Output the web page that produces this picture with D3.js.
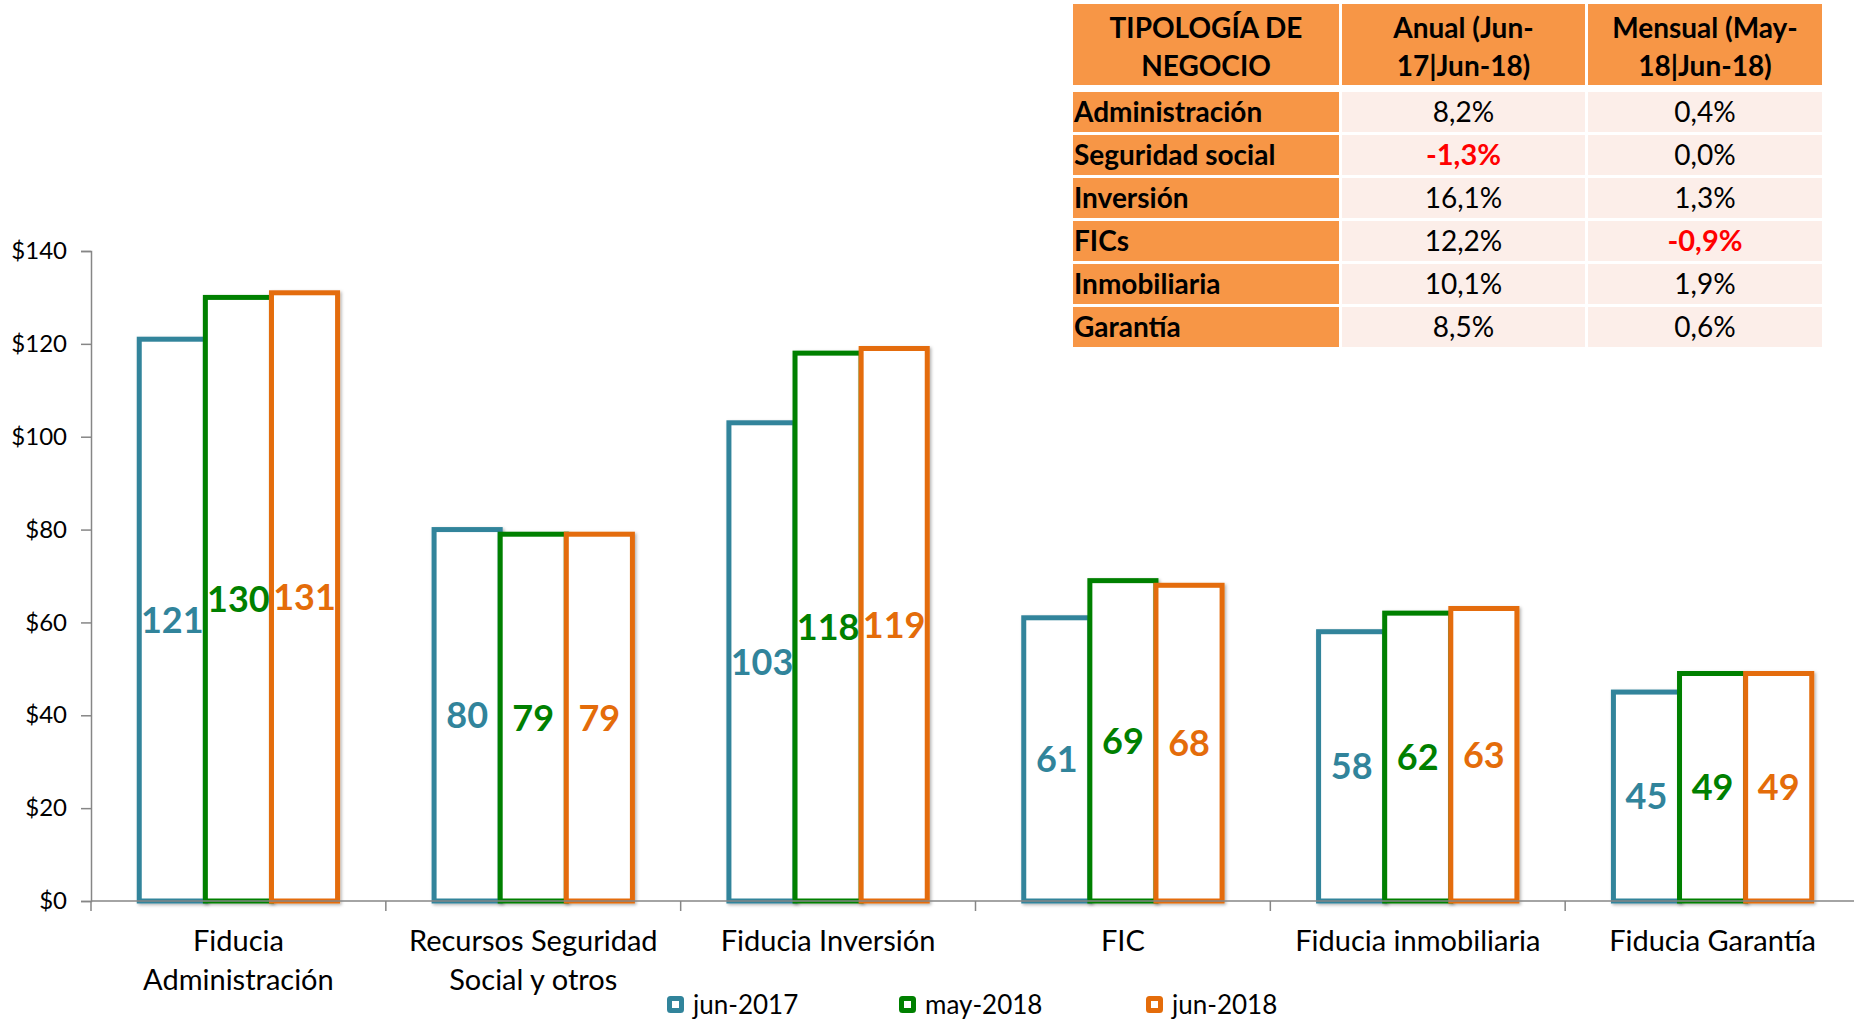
<!DOCTYPE html>
<html>
<head>
<meta charset="utf-8">
<script src="https://cdn.jsdelivr.net/npm/d3@7/dist/d3.min.js"></script>
<style>
  body { margin: 0; background: #fff; }
  svg { display: block; font-family: Lato, "Open Sans", sans-serif; }
</style>
</head>
<body>
<svg id="chart" width="1854" height="1019"></svg>
<script>
// ---------- data ----------
const categories = ["Fiducia\nAdministración", "Recursos Seguridad\nSocial y otros", "Fiducia Inversión", "FIC", "Fiducia inmobiliaria", "Fiducia Garantía"];
const seriesNames = ["jun-2017", "may-2018", "jun-2018"];
const jun2017 = [121, 80, 103, 61, 58, 45];
const may2018 = [130, 79, 118, 69, 62, 49];
const jun2018 = [131, 79, 119, 68, 63, 49];
const seriesColors = ["#31849B", "#008000", "#E46C0A"];
const yTicks = [0, 20, 40, 60, 80, 100, 120, 140];

const tableHeader = ["TIPOLOGÍA DE\nNEGOCIO", "Anual (Jun-\n17|Jun-18)", "Mensual (May-\n18|Jun-18)"];
const tableTypes = ["Administración", "Seguridad social", "Inversión", "FICs", "Inmobiliaria", "Garantía"];
const tableAnual = ["8,2%", "-1,3%", "16,1%", "12,2%", "10,1%", "8,5%"];
const tableMensual = ["0,4%", "0,0%", "1,3%", "-0,9%", "1,9%", "0,6%"];

// ---------- chart ----------
const svg = d3.select("#chart");
const defs = svg.append("defs");
const f = defs.append("filter").attr("id", "shadow").attr("x", "-20%").attr("y", "-20%").attr("width", "140%").attr("height", "140%");
f.append("feDropShadow").attr("dx", 1.5).attr("dy", 1.5).attr("stdDeviation", 1.5).attr("flood-color", "#000").attr("flood-opacity", 0.3);

const x0 = d3.scaleBand().domain(categories).range([91, 1860]).padding(0);
const x1 = d3.scaleBand().domain(seriesNames).range([0, x0.bandwidth()]).paddingOuter(0.73).paddingInner(0);
const y = d3.scaleLinear().domain([0, 140]).range([901, 251]);

const series = [jun2017, may2018, jun2018];

// bars
series.forEach((vals, si) => {
  svg.append("g").selectAll("rect").data(vals).join("rect")
    .attr("x", (v, i) => x0(categories[i]) + x1(seriesNames[si]))
    .attr("y", v => y(v))
    .attr("width", x1.bandwidth())
    .attr("height", v => y(0) - y(v))
    .attr("fill", "#fff")
    .attr("stroke", seriesColors[si])
    .attr("stroke-width", 5)
    .attr("filter", "url(#shadow)");
});

// y axis
const yAxis = svg.append("g").attr("transform", "translate(91,0)")
  .call(d3.axisLeft(y).tickValues(yTicks).tickSize(10).tickPadding(14).tickFormat(d => "$" + d));
yAxis.select(".domain").attr("stroke", "#868686").attr("stroke-width", 1.5);
yAxis.selectAll(".tick line").attr("stroke", "#868686").attr("stroke-width", 1.5);
yAxis.selectAll(".tick text").attr("font-size", 24).attr("fill", "#000").attr("font-family", "Lato");

// x axis
const xAxis = svg.append("g").attr("transform", "translate(0,901)");
xAxis.append("line").attr("x1", 91).attr("x2", 1860).attr("stroke", "#868686").attr("stroke-width", 1.5);
const boundaries = categories.map(c => x0(c)).concat([x0.range()[1]]);
xAxis.selectAll("line.tk").data(boundaries).join("line").attr("class", "tk")
  .attr("x1", d => d).attr("x2", d => d).attr("y1", 0).attr("y2", 10)
  .attr("stroke", "#868686").attr("stroke-width", 1.5);
const catLabels = xAxis.selectAll("text.cat").data(categories).join("text").attr("class", "cat")
  .attr("x", d => x0(d) + x0.bandwidth() / 2)
  .attr("text-anchor", "middle").attr("font-size", 29).attr("fill", "#000");
catLabels.each(function(d) {
  const lines = d.split("\n");
  d3.select(this).selectAll("tspan").data(lines).join("tspan")
    .attr("x", x0(d) + x0.bandwidth() / 2)
    .attr("y", (l, i) => 50 + i * 39)
    .text(l => l);
});

// labels
series.forEach((vals, si) => {
  svg.append("g").selectAll("text").data(vals).join("text")
    .attr("x", (v, i) => x0(categories[i]) + x1(seriesNames[si]) + x1.bandwidth() / 2)
    .attr("y", v => (y(v) + y(0)) / 2)
    .attr("dy", "0.36em")
    .attr("text-anchor", "middle")
    .attr("font-size", 36).attr("font-weight", "bold")
    .attr("fill", seriesColors[si])
    .text(v => v);
});

// legend
const legendX = [667, 899, 1146];
const lg = svg.append("g").selectAll("g").data(seriesNames).join("g")
  .attr("transform", (d, i) => `translate(${legendX[i]},1005)`);
lg.append("rect").attr("x", 2.5).attr("y", -6.5).attr("width", 12).attr("height", 12).attr("rx", 1)
  .attr("fill", "#fff").attr("stroke", (d, i) => seriesColors[i]).attr("stroke-width", 5);
lg.append("text").attr("x", 26).attr("dy", "0.36em").attr("font-size", 26).attr("fill", "#000").text(d => d);

// ---------- table ----------
const colX = [1073, 1342, 1588];
const colW = [266, 243, 234];
const headerTop = 4, headerH = 81;
const rowTop = 92, rowH = 40, rowStep = 43;
const tg = svg.append("g").attr("font-size", 28);

// header
tableHeader.forEach((h, ci) => {
  tg.append("rect").attr("x", colX[ci]).attr("y", headerTop).attr("width", colW[ci]).attr("height", headerH).attr("fill", "#F79646");
  const t = tg.append("text").attr("text-anchor", "middle").attr("font-weight", "bold").attr("fill", "#000");
  h.split("\n").forEach((l, li) => {
    t.append("tspan").attr("x", colX[ci] + colW[ci] / 2).attr("y", headerTop + 24 + li * 38).attr("dy", "0.36em").text(l);
  });
});

// rows
tableTypes.forEach((name, ri) => {
  const ty = rowTop + ri * rowStep;
  tg.append("rect").attr("x", colX[0]).attr("y", ty).attr("width", colW[0]).attr("height", rowH).attr("fill", "#F79646");
  tg.append("rect").attr("x", colX[1]).attr("y", ty).attr("width", colW[1]).attr("height", rowH).attr("fill", "#FCEEE9");
  tg.append("rect").attr("x", colX[2]).attr("y", ty).attr("width", colW[2]).attr("height", rowH).attr("fill", "#FCEEE9");
  tg.append("text").attr("x", colX[0] + 1).attr("y", ty + rowH / 2).attr("dy", "0.36em")
    .attr("font-weight", "bold").attr("fill", "#000").text(name);
  [tableAnual[ri], tableMensual[ri]].forEach((v, k) => {
    const neg = v.startsWith("-");
    tg.append("text").attr("x", colX[k + 1] + colW[k + 1] / 2).attr("y", ty + rowH / 2).attr("dy", "0.36em")
      .attr("text-anchor", "middle")
      .attr("font-weight", neg ? "bold" : "normal")
      .attr("font-size", neg ? 29 : 28)
      .attr("fill", neg ? "#FF0000" : "#000").text(v);
  });
});
</script>
</body>
</html>
